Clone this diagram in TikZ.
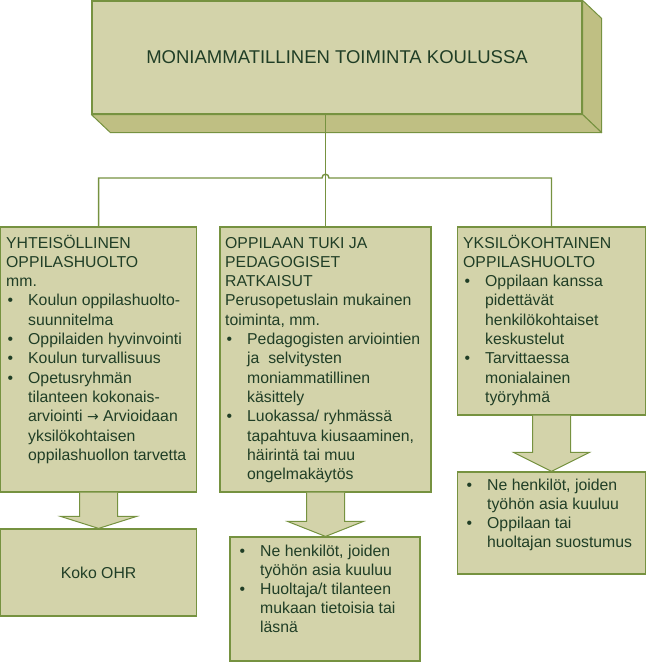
\documentclass[tikz,border=0pt]{standalone}
\usepackage{fontspec}
\setmainfont{Liberation Sans}
\newfontfamily\arrowfont{DejaVu Sans}
\usetikzlibrary{calc}
\definecolor{boxfill}{RGB}{211,211,170}
\definecolor{sidefill}{RGB}{191,191,131}
\definecolor{boxline}{RGB}{118,146,64}
\definecolor{txtc}{RGB}{32,62,38}
\newcommand\bu{\makebox[22pt][l]{\hspace{1.5pt}•}}
\newcommand\ct{\hspace*{22pt}}
\newcommand\rarr{{\arrowfont\fontsize{14}{19}\selectfont →}}
\newcommand\blockarr[3]{%
  \coordinate (tipA) at (#1.south |- #2.north);
  \filldraw[arrowshape] ($(#1.south)+(-19,0)$) -- ($(tipA)+(-19,-#3)$) -- ($(tipA)+(-38,-#3)$) -- (tipA) -- ($(tipA)+(38,-#3)$) -- ($(tipA)+(19,-#3)$) -- ($(#1.south)+(19,0)$);}
\begin{document}
\begin{tikzpicture}[x=1pt,y=-1pt,
  box/.style={draw=boxline,fill=boxfill,line width=1.2pt,inner sep=0,rectangle},
  sideface/.style={draw=boxline,fill=sidefill,line width=1pt,line join=round},
  arrowshape/.style={draw=boxline,fill=boxfill,line width=1pt,line join=miter},
  conn/.style={draw=boxline,line width=1.4pt},
  txt/.style={anchor=base west,inner sep=0,text=txtc,font=\fontsize{15.8}{19}\selectfont},
  ctxt/.style={inner sep=0,text=txtc,font=\fontsize{15.8}{19}\selectfont}]
\useasboundingbox (0,0) rectangle (647,662);
% top 3D box
\node[box,minimum width=490,minimum height=113,text=txtc,font=\fontsize{18.5}{22}\selectfont] (top) at (337,57.5) {MONIAMMATILLINEN TOIMINTA KOULUSSA};
\filldraw[sideface] (top.north east) -- ++(19,18) -- ($(top.south east)+(19,18)$) -- (top.south east) -- cycle;
\filldraw[sideface] (top.south west) -- (top.south east) -- ($(top.south east)+(19,18)$) -- ($(top.south west)+(19,18)$) -- cycle;
% boxes
\node[box,minimum width=196,minimum height=265] (lbox) at (98.6,359.5) {};
\node[box,minimum width=211,minimum height=265] (mbox) at (325.5,359.5) {};
\node[box,minimum width=188,minimum height=188] (rbox) at (551.5,321) {};
\node[box,minimum width=196,minimum height=87] (kbox) at (98.6,572.5) {};
\node[box,minimum width=190,minimum height=124] (mbbox) at (325,599) {};
\node[box,minimum width=188,minimum height=102] (rbbox) at (551.5,523) {};
% connectors
\coordinate (hl) at (lbox.north |- 0,178);
\coordinate (hr) at (rbox.north |- 0,178);
\coordinate (hm) at (mbox.north |- 0,178);
\draw[conn] (mbox.north |- top.south) -- (mbox.north);
\draw[conn] (lbox.north) -- (hl) -- ($(hm)+(-3.5,0)$) .. controls ($(hm)+(-3.5,-5)$) and ($(hm)+(3.5,-5)$) .. ($(hm)+(3.5,0)$) -- (hr) -- (rbox.north);
% block arrows
\blockarr{lbox}{kbox}{12}
\blockarr{mbox}{mbbox}{15}
\blockarr{rbox}{rbbox}{19}
% texts
\foreach \t [count=\i from 0] in {YHTEISÖLLINEN,OPPILASHUOLTO,mm.,\bu Koulun oppilashuolto-,\ct suunnitelma,\bu Oppilaiden hyvinvointi,\bu Koulun turvallisuus,\bu Opetusryhmän,\ct tilanteen kokonais-,\ct arviointi \rarr{} Arvioidaan,\ct yksilökohtaisen,\ct oppilashuollon tarvetta}
  \node[txt] (lt\i) at (6,248+\i*19.3) {\t};
\foreach \t [count=\i from 0] in {OPPILAAN TUKI JA,PEDAGOGISET,RATKAISUT,Perusopetuslain mukainen,{toiminta, mm.},\bu Pedagogisten arviointien,\ct ja\ \ selvitysten,\ct moniammatillinen,\ct käsittely,\bu Luokassa/ ryhmässä,{\ct tapahtuva kiusaaminen,},\ct häirintä tai muu,\ct ongelmakäytös}
  \node[txt] (mt\i) at (225,248+\i*19.3) {\t};
\foreach \t [count=\i from 0] in {YKSILÖKOHTAINEN,OPPILASHUOLTO,\bu Oppilaan kanssa,\ct pidettävät,\ct henkilökohtaiset,\ct keskustelut,\bu Tarvittaessa,\ct monialainen,\ct työryhmä}
  \node[txt] (rt\i) at (463,248+\i*19.3) {\t};
\foreach \t [count=\i from 0] in {{\bu Ne henkilöt, joiden},\ct työhön asia kuuluu,\bu Huoltaja/t tilanteen,\ct mukaan tietoisia tai,\ct läsnä}
  \node[txt] (mbt\i) at (238,556.5+\i*19) {\t};
\foreach \t [count=\i from 0] in {{\bu Ne henkilöt, joiden},\ct työhön asia kuuluu,\bu Oppilaan tai,\ct huoltajan suostumus}
  \node[txt] (rbt\i) at (465,490.5+\i*19) {\t};
\node[ctxt] (koko) at (kbox.center) {Koko OHR};
\end{tikzpicture}
\end{document}
